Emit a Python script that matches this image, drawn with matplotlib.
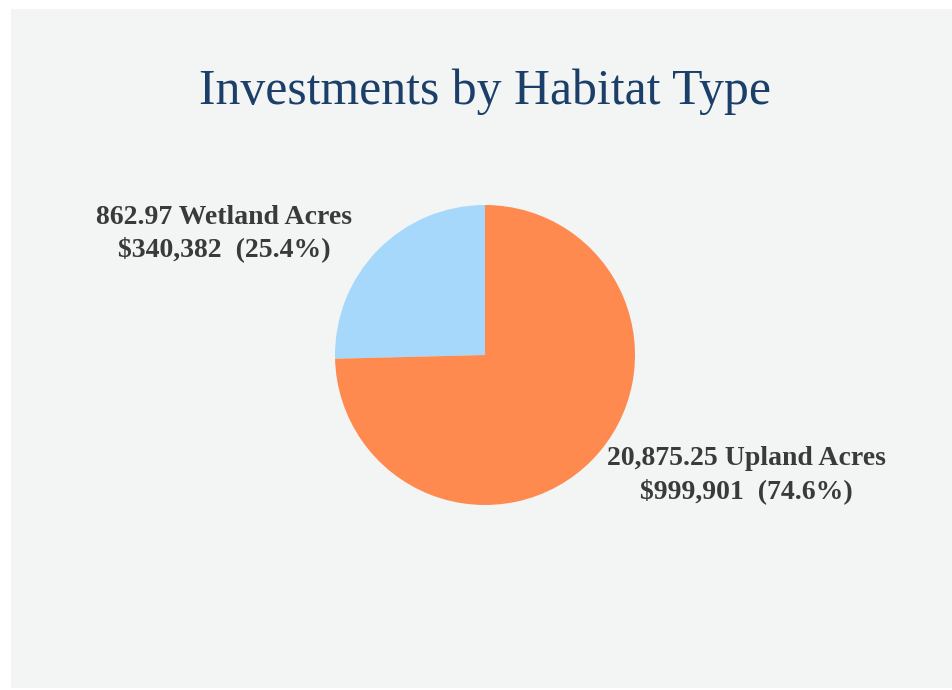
import matplotlib.pyplot as plt
from matplotlib.patches import Rectangle

# data
habitats = ['Wetland', 'Upland']
acres = ['862.97', '20,875.25']
dollars = [340382, 999901]
shares = [25.4, 74.6]
colors = ['#A5D8FA', '#FF8A50']

W, H = 952, 690
fig = plt.figure(figsize=(W / 100, H / 100), dpi=100, facecolor='white')

# light gray slide background, small white margin on the top and left
fig.patches.append(Rectangle((11 / W, 0.003), 1 - 11 / W, 1 - 9 / H - 0.003,
                             transform=fig.transFigure, facecolor='#F3F5F5',
                             edgecolor='none', zorder=-1))

fig.text(485 / W, 1 - 92 / H, 'Investments by Habitat Type',
         ha='center', va='center', fontsize=35.8, color='#1C3F6A',
         family='Liberation Serif')

# pie centred at (485, 355) px with radius 150 px
cx, cy, r = 485, 355, 150
ax = fig.add_axes([(cx - r) / W, (H - cy - r) / H, 2 * r / W, 2 * r / H])
ax.pie(dollars, colors=colors, startangle=90, counterclock=True,
       wedgeprops=dict(linewidth=0))
ax.set_xlim(-1, 1)
ax.set_ylim(-1, 1)
ax.set_aspect('equal')
ax.axis('off')

label_pos = [(-1.74, 0.81), (1.745, -0.80)]
for i in range(len(habitats)):
    txt = f'{acres[i]} {habitats[i]} Acres\n${dollars[i]:,}  ({shares[i]:.1f}%)'
    ax.text(label_pos[i][0], label_pos[i][1], txt, ha='center', va='center',
            multialignment='center', fontsize=20, fontweight='bold',
            color='#3A3A3A', family='Liberation Serif', linespacing=1.35,
            clip_on=False)

fig.savefig('out.png', dpi=100, facecolor=fig.get_facecolor())
